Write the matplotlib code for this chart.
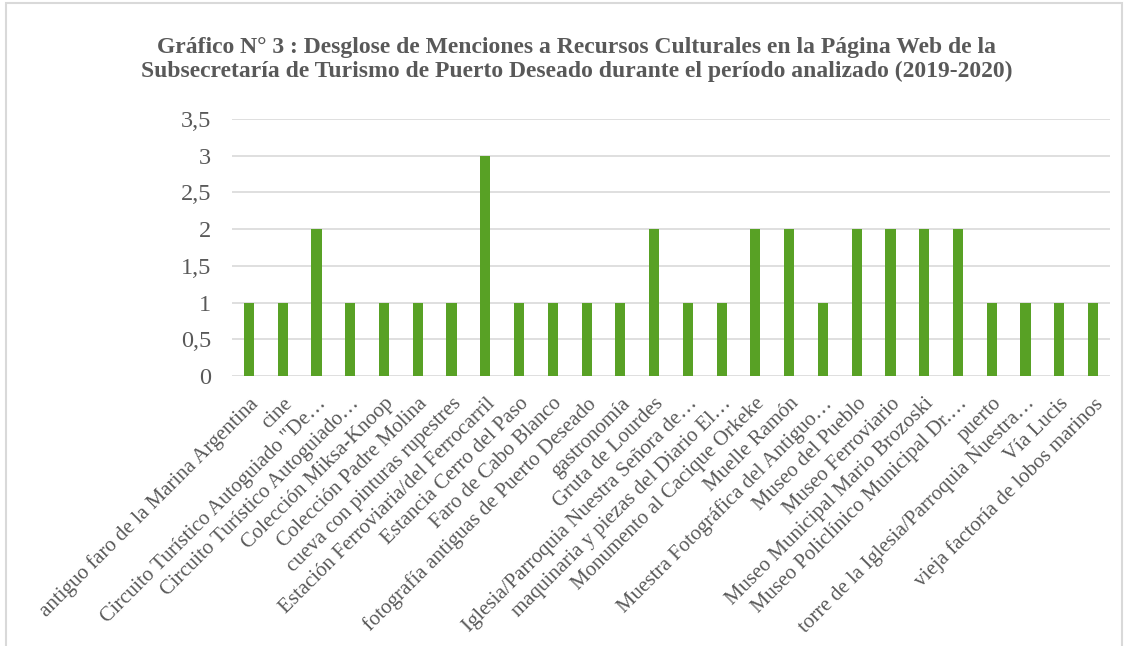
import matplotlib
matplotlib.use("Agg")
import matplotlib.pyplot as plt
from matplotlib.patches import Rectangle

# recursos culturales mencionados y cantidad de menciones
categorias = [
    'antiguo faro de la Marina Argentina',
    'cine',
    'Circuito Turístico Autoguiado "De…',
    'Circuito Turístico Autoguiado…',
    'Colección Miksa-Knoop',
    'Colección Padre Molina',
    'cueva con pinturas rupestres',
    'Estación Ferroviaria/del Ferrocarril',
    'Estancia Cerro del Paso',
    'Faro de Cabo Blanco',
    'fotografía antiguas de Puerto Deseado',
    'gastronomía',
    'Gruta de Lourdes',
    'Iglesia/Parroquia Nuestra Señora de…',
    'maquinaria y piezas del Diario El…',
    'Monumento al Cacique Orkeke',
    'Muelle Ramón',
    'Muestra Fotográfica del Antiguo…',
    'Museo del Pueblo',
    'Museo Ferroviario',
    'Museo Municipal Mario Brozoski',
    'Museo Policlínico Municipal Dr.…',
    'puerto',
    'torre de la Iglesia/Parroquia Nuestra…',
    'Vía Lucis',
    'vieja factoría de lobos marinos',
]
menciones = [1, 1, 2, 1, 1, 1, 1, 3, 1, 1, 1, 1, 2, 1, 1, 2, 2, 1, 2, 2, 2, 2, 1, 1, 1, 1]
yticks = [0, 0.5, 1, 1.5, 2, 2.5, 3, 3.5]
ytick_labels = ['0', '0,5', '1', '1,5', '2', '2,5', '3', '3,5']

plt.rcParams['font.family'] = ['Liberation Serif', 'DejaVu Serif']
gris = '#595959'

fig = plt.figure(figsize=(11.28, 6.46), dpi=100)
ax = fig.add_axes([0.2057, 0.418, 0.7783, 0.398])

x = range(len(categorias))
ax.bar(x, menciones, width=0.3, color='#58a125', zorder=3)

ax.set_xlim(-0.5, len(categorias) - 0.5)
ax.set_ylim(0, 3.5)
ax.set_yticks(yticks)
ax.set_yticklabels(ytick_labels, fontsize=17.5, color=gris)
ax.set_xticks(list(x))
ax.set_xticklabels(categorias, rotation=45, ha='right', rotation_mode='anchor',
                   fontsize=15, color=gris)
ax.tick_params(axis='both', length=0)
ax.tick_params(axis='x', pad=13)
ax.tick_params(axis='y', pad=15)
ax.grid(axis='y', color='#d9d9d9', linewidth=1.2, zorder=0)
for s in ax.spines.values():
    s.set_visible(False)

fig.text(0.511, 0.908,
         'Gráfico N° 3 : Desglose de Menciones a Recursos Culturales en la Página Web de la\n'
         'Subsecretaría de Turismo de Puerto Deseado durante el período analizado (2019-2020)',
         ha='center', va='center', fontsize=17, fontweight='bold', color=gris,
         linespacing=1.2)

# marco del grafico
fig.patches.append(Rectangle((0.005, -0.01), 0.99, 1.005, transform=fig.transFigure,
                             fill=False, edgecolor='#d9d9d9', linewidth=1.5))

fig.savefig('out.png', dpi=100)
